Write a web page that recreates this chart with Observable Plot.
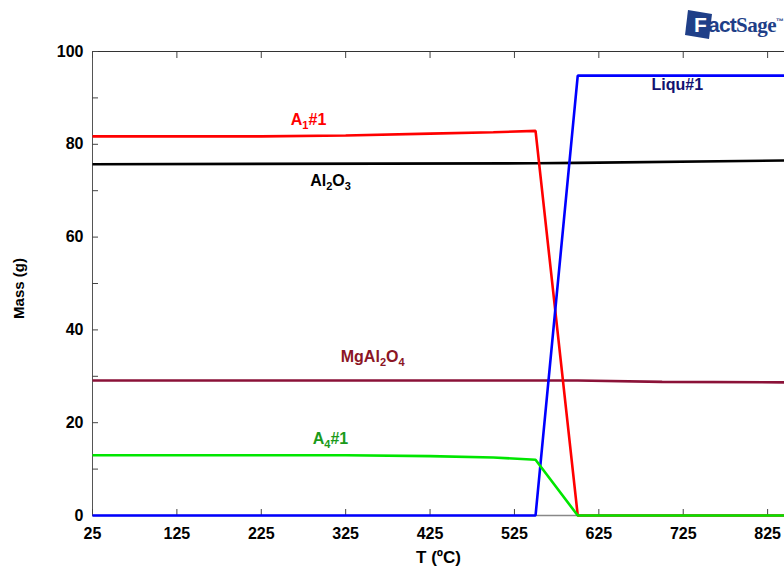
<!DOCTYPE html>
<html>
<head>
<meta charset="utf-8">
<script src="https://cdn.jsdelivr.net/npm/d3@7"></script>
<script src="https://cdn.jsdelivr.net/npm/@observablehq/plot@0.6"></script>
<style>
  html, body { margin: 0; padding: 0; background: #fff; }
  #wrap { position: relative; width: 784px; height: 574px; overflow: hidden; }
  #logo { position: absolute; left: 682px; top: 6px; height: 36px; white-space: nowrap; }
  #logo .txt { position: absolute; left: 20px; top: 7px; font-family: "Liberation Sans", Arial, sans-serif; font-weight: bold; font-size: 21px; color: #1f3f88; letter-spacing: -0.8px; }
  #logo .sage { font-family: "Liberation Serif", serif; font-weight: bold; font-size: 21px; letter-spacing: -0.5px; }
</style>
</head>
<body>
<div id="wrap">
  <div id="chart"></div>
  <div id="logo">
    <svg width="34" height="36" style="position:absolute;left:0;top:0">
      <polygon points="6,4 30,8 27,33 3,29" fill="#1f3f88"/>
    </svg>
    <span class="txt"><span style="color:#fff;position:relative;left:-8px;margin-right:-6px">F</span>act<span class="sage">Sage</span><sup style="font-size:8px">™</sup></span>
  </div>
</div>
<script>
// ---- data ----
const names = ["Al2O3", "MgAl2O4", "A1#1", "Liqu#1", "A4#1"];
const alT = [25, 550, 600, 845];
const alM = [75.7, 75.9, 76.0, 76.5];
const mgT = [25, 600, 700, 845];
const mgM = [29.1, 29.1, 28.8, 28.7];
const a1T = [25, 225, 325, 425, 500, 550, 600, 845];
const a1M = [81.7, 81.7, 81.9, 82.3, 82.6, 82.9, 0, 0];
const liT = [25, 550, 600, 845];
const liM = [0, 0, 94.8, 94.8];
const a4T = [25, 325, 425, 500, 550, 600, 845];
const a4M = [13.0, 13.0, 12.8, 12.5, 12.0, 0, 0];
const xTicks = [25, 125, 225, 325, 425, 525, 625, 725, 825];
const yLabelTicks = [0, 20, 40, 60, 80, 100];
const yMinorTicks = [0, 10, 20, 30, 40, 50, 60, 70, 80, 90, 100];
const xTitle = "T (ºC)";
const yTitle = "Mass (g)";
// label anchor points (data units)
const labelT = [307, 357, 281, 718, 307];
const labelM = [72.2, 34.1, 85.3, 92.7, 16.6];

const lineColors = ["#000000", "#8b1238", "#ff0000", "#0000ff", "#00e600"];
const textColors = ["#000000", "#8b1525", "#ff0000", "#121270", "#1a9a1a"];

const tempsList = [alT, mgT, a1T, liT, a4T];
const massList = [alM, mgM, a1M, liM, a4M];
const rows = [];
names.forEach((n, i) => tempsList[i].forEach((t, j) => rows.push({name: n, T: t, M: massList[i][j]})));
const labels = names.map((n, i) => ({name: n, T: labelT[i], M: labelM[i], c: textColors[i]}));

const xDomain = [25, 845];
const yDomain = [0, 100];
const font = '"Liberation Sans", Arial, sans-serif';

const chart = Plot.plot({
  width: 784,
  height: 574,
  marginLeft: 92,
  marginRight: 0,
  marginTop: 51,
  marginBottom: 59,
  style: {fontFamily: font, fontWeight: "bold", fontSize: "16px", color: "#000", background: "#fff"},
  x: {domain: xDomain},
  y: {domain: yDomain},
  color: {domain: names, range: lineColors},
  marks: [
    Plot.ruleY([yDomain[1]], {stroke: "#333", strokeWidth: 1}),
    Plot.ruleX([xDomain[0]], {stroke: "#555", strokeWidth: 1}),
    Plot.ruleY([yDomain[0]], {stroke: "#888", strokeWidth: 1.5}),
    Plot.axisX(xTicks, {anchor: "bottom", tickSize: -6, tickPadding: 18, stroke: "#444", label: null, fontSize: 16}),
    Plot.axisX(xTicks, {anchor: "top", tickSize: -6, tickFormat: () => "", stroke: "#444", label: null}),
    Plot.axisY(yMinorTicks, {anchor: "left", tickSize: -6, tickFormat: () => "", stroke: "#444", label: null}),
    Plot.axisY(yLabelTicks, {anchor: "left", tickSize: 0, tickPadding: 9, label: null, fontSize: 16}),
    Plot.text([xTitle], {frameAnchor: "bottom", dy: 47, fontSize: 17, fontWeight: "bold"}),
    Plot.text([yTitle], {frameAnchor: "left", textAnchor: "middle", rotate: -90, dx: -73, dy: 5, fontSize: 15, fontWeight: "bold"}),
    Plot.line(rows, {x: "T", y: "M", z: "name", stroke: "name", strokeWidth: 2.6, strokeLinejoin: "miter", strokeLinecap: "butt"}),
    Plot.text(labels, {x: "T", y: "M", text: "name", fill: "c", fontSize: 16, fontWeight: "bold"})
  ]
});
// render digits after letters as subscripts (chemical formulas / phase names)
d3.select(chart).selectAll("text").each(function () {
  const t = this.textContent;
  if (!names.includes(t)) return;
  const sel = d3.select(this);
  const parts = t.match(/#\d+|\d+|[^#\d]+/g);
  sel.text(null);
  parts.forEach((p, k) => {
    const ts = sel.append("tspan").text(p);
    if (/^\d+$/.test(p)) ts.attr("font-size", "11px").attr("dy", "4");
    else if (k > 0 && /^\d+$/.test(parts[k - 1])) ts.attr("dy", "-4");
  });
});
document.getElementById("chart").appendChild(chart);
</script>
</body>
</html>
